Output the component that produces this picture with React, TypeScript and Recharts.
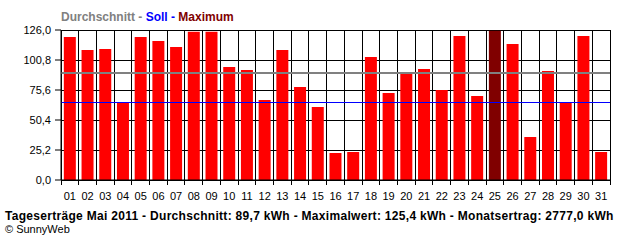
import React from "react";
import { BarChart, Bar, Cell, XAxis, YAxis, CartesianGrid, ReferenceLine } from "recharts";

const days = [
  "01", "02", "03", "04", "05", "06", "07", "08", "09", "10", "11", "12", "13", "14", "15", "16",
  "17", "18", "19", "20", "21", "22", "23", "24", "25", "26", "27", "28", "29", "30", "31",
];
const yields = [
  120.1, 109.2, 110.0, 65.2, 120.1, 116.8, 111.7, 124.6, 124.6, 94.9, 92.4, 67.2, 109.2, 78.1, 61.3, 22.7,
  23.5, 103.3, 73.1, 89.9, 93.2, 75.6, 121.0, 70.6, 125.4, 114.3, 36.1, 91.6, 65.2, 121.0, 23.5,
];
const yTicks = [0, 25.2, 50.4, 75.6, 100.8, 126];
const average = 89.7;
const target = 65.2;

const data = days.map((day, i) => ({ day, value: yields[i] }));
const maxValue = Math.max(...yields);

const W = 640;
const H = 240;
const X_AXIS_H = 30;
const Y_AXIS_W = 50;
const M = { top: 30, right: 30, bottom: 60 - X_AXIS_H, left: 11 };
const PLOT_LEFT = M.left + Y_AXIS_W;
const PLOT_W = W - PLOT_LEFT - M.right;
const AXIS_Y = H - M.bottom - X_AXIS_H;
const BAND = PLOT_W / days.length;
const gridX = days.map((_, i) => PLOT_LEFT + i * BAND).concat(PLOT_LEFT + PLOT_W);

const fmt = (v: number) => v.toFixed(1).replace(".", ",");
const font = "'Liberation Sans', Arial, sans-serif";

// tick line at each day boundary, label in the middle of the day
function DayTick(props: any) {
  const { x, payload, index } = props;
  const left = x - BAND / 2;
  return (
    <g>
      <line x1={left} x2={left} y1={AXIS_Y} y2={AXIS_Y + 5} stroke="#000" shapeRendering="crispEdges" />
      {index === days.length - 1 && (
        <line
          x1={left + BAND}
          x2={left + BAND}
          y1={AXIS_Y}
          y2={AXIS_Y + 5}
          stroke="#000"
          shapeRendering="crispEdges"
        />
      )}
      <text x={x} y={AXIS_Y + 20} textAnchor="middle" fontSize={11} fontFamily={font} fill="#000">
        {payload.value}
      </text>
    </g>
  );
}

export default function App() {
  return (
    <div style={{ position: "fixed", left: 0, top: 0, width: W, height: H, background: "#fff", fontFamily: font }}>
      <div style={{ position: "absolute", left: 61, top: 10, fontSize: 12, fontWeight: "bold", whiteSpace: "nowrap" }}>
        <span style={{ color: "#808080" }}>Durchschnitt - </span>
        <span style={{ color: "#0000ff" }}>Soll - </span>
        <span style={{ color: "#800000" }}>Maximum</span>
      </div>
      <BarChart width={W} height={H} data={data} margin={M} barCategoryGap="16%">
        <CartesianGrid stroke="#000" strokeOpacity={1} shapeRendering="crispEdges" verticalPoints={gridX} />
        <XAxis
          dataKey="day"
          height={X_AXIS_H}
          interval={0}
          tickLine={false}
          tickSize={0}
          tickMargin={0}
          axisLine={{ stroke: "#000" }}
          tick={<DayTick />}
        />
        <YAxis
          width={Y_AXIS_W}
          domain={[0, 126]}
          ticks={yTicks}
          tickFormatter={fmt}
          tickSize={6}
          tickMargin={4}
          axisLine={{ stroke: "#000" }}
          tickLine={{ stroke: "#000" }}
          tick={{ fill: "#000", fontSize: 11, fontFamily: font }}
        />
        <Bar dataKey="value" isAnimationActive={false}>
          {data.map((d) => (
            <Cell key={d.day} fill={d.value === maxValue ? "#800000" : "#ff0000"} />
          ))}
        </Bar>
        <ReferenceLine y={target} stroke="#0000ff" strokeWidth={1} shapeRendering="crispEdges" />
        <ReferenceLine y={average} stroke="#808080" strokeWidth={2} shapeRendering="crispEdges" />
      </BarChart>
      <div
        style={{
          position: "absolute",
          left: 5,
          top: 209,
          fontSize: 12,
          fontWeight: "bold",
          letterSpacing: 0.3,
          whiteSpace: "nowrap",
        }}
      >
        Tageserträge Mai 2011 - Durchschnitt: 89,7 kWh - Maximalwert: 125,4 kWh - Monatsertrag: 2777,0 kWh
      </div>
      <div style={{ position: "absolute", left: 5, top: 223, fontSize: 11, whiteSpace: "nowrap" }}>
        © SunnyWeb
      </div>
    </div>
  );
}
